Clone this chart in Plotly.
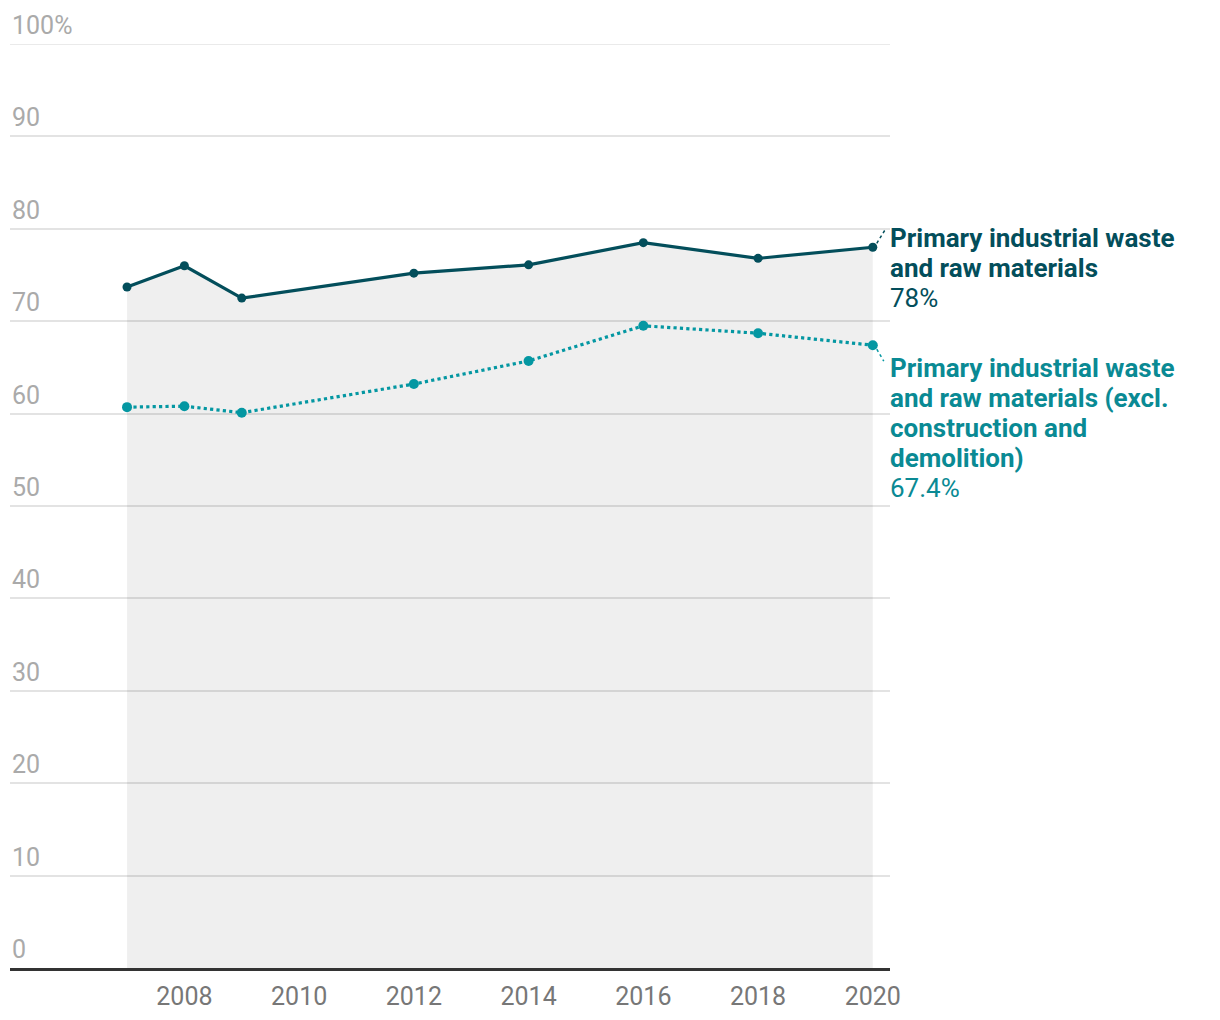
import plotly.graph_objects as go

years = [2007, 2008, 2009, 2012, 2014, 2016, 2018, 2020]
total = [73.7, 76.0, 72.5, 75.2, 76.1, 78.5, 76.8, 78.0]
excl_cd = [60.7, 60.8, 60.1, 63.2, 65.7, 69.5, 68.7, 67.4]

y_ticks = [0, 10, 20, 30, 40, 50, 60, 70, 80, 90, 100]
y_tick_labels = ["0", "10", "20", "30", "40", "50", "60", "70", "80", "90", "100%"]
x_ticks = [2008, 2010, 2012, 2014, 2016, 2018, 2020]

name_total = ["Primary industrial waste", "and raw materials"]
name_excl = ["Primary industrial waste", "and raw materials (excl.",
             "construction and", "demolition)"]

DARK = "#034e5b"
TEAL = "#0497a2"
TEAL_TXT = "#0a8a94"
FONT = "Roboto"
LINE_H = 30

fig = go.Figure()

fig.add_trace(go.Scatter(
    x=years, y=total, mode="lines+markers",
    fill="tozeroy", fillcolor="rgba(0,0,0,0.062)",
    line=dict(color=DARK, width=3.2),
    marker=dict(color=DARK, size=9),
    hoverinfo="skip", showlegend=False,
))
fig.add_trace(go.Scatter(
    x=years, y=excl_cd, mode="lines+markers",
    line=dict(color=TEAL, width=3.2, dash="dot"),
    marker=dict(color=TEAL, size=10),
    hoverinfo="skip", showlegend=False,
))

annotations = []
for v, lab in zip(y_ticks, y_tick_labels):
    annotations.append(dict(
        x=0, xref="paper", y=v, yref="y", text=lab, showarrow=False,
        xanchor="left", yanchor="bottom", yshift=2,
        font=dict(family=FONT, size=25, color="#aaaaaa"),
    ))


def label_block(lines, value, yval, first_offset, color):
    out = []
    texts = [f"<b>{t}</b>" for t in lines] + [f"{value:g}%"]
    for i, t in enumerate(texts):
        out.append(dict(
            x=1, xref="paper", y=yval, yref="y", text=t, showarrow=False,
            xanchor="left", yanchor="middle", align="left",
            xshift=-2, yshift=-(first_offset + i * LINE_H),
            font=dict(family=FONT, size=26, color=color),
        ))
    return out


annotations += label_block(name_total, total[-1], total[-1], -9, DARK)
annotations += label_block(name_excl, excl_cd[-1], excl_cd[-1], 23, TEAL_TXT)

shapes = [
    dict(type="line", xref="paper", yref="y", x0=0, x1=1, y0=100, y1=100,
         line=dict(color="#e3e3e3", width=1.5), layer="below"),
    dict(type="line", xref="x", yref="y", xsizemode="pixel", ysizemode="pixel",
         xanchor=years[-1], yanchor=total[-1], x0=4, y0=4, x1=12, y1=17,
         line=dict(color=DARK, width=1.5, dash="dot")),
    dict(type="line", xref="x", yref="y", xsizemode="pixel", ysizemode="pixel",
         xanchor=years[-1], yanchor=excl_cd[-1], x0=4, y0=-4, x1=11, y1=-16,
         line=dict(color=TEAL, width=1.5, dash="dot")),
]

fig.update_layout(
    width=1212, height=1012,
    margin=dict(l=2, r=330, t=36, b=52),
    paper_bgcolor="white", plot_bgcolor="white",
    font=dict(family=FONT),
    annotations=annotations, shapes=shapes,
    xaxis=dict(
        range=[2004.96, 2020.3], tickvals=x_ticks,
        showgrid=False, zeroline=False,
        showline=True, linecolor="#333333", linewidth=2.5,
        ticks="outside", ticklen=4, tickcolor="rgba(0,0,0,0)",
        tickfont=dict(family=FONT, size=25, color="#777777"),
    ),
    yaxis=dict(
        range=[0, 100], tickvals=y_ticks, showticklabels=False,
        showgrid=True, gridcolor="#e3e3e3", gridwidth=1.5,
        zeroline=False,
    ),
)

fig.write_html("out.html")
